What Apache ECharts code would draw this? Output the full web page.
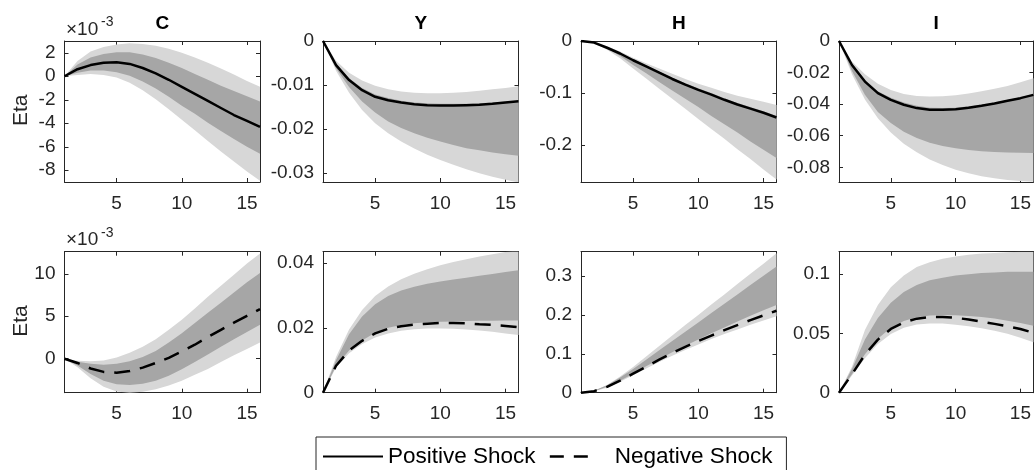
<!DOCTYPE html>
<html><head><meta charset="utf-8">
<script src="https://cdn.jsdelivr.net/npm/echarts@6/dist/echarts.min.js"></script>
<style>html,body{margin:0;padding:0;background:#fff;overflow:hidden}#chart{width:1034px;height:470px}</style>
</head><body><div id="chart"></div><script>
// ---------- DATA ----------
const periods = [1,2,3,4,5,6,7,8,9,10,11,12,13,14,15,16];
const titles = ['C', 'Y', 'H', 'I'];
const seriesNames = ['Positive Shock', 'Negative Shock'];
const xTickLabels = [5, 10, 15];

// Top row: positive shock (C in units of 1e-3)
const cPosLine    = [0, 0.6, 0.95, 1.15, 1.2, 1.05, 0.7, 0.25, -0.3, -0.9, -1.5, -2.1, -2.7, -3.3, -3.8, -4.3];
const cPosDarkHi  = [0, 1.0, 1.6, 1.9, 2.05, 2.05, 1.85, 1.55, 1.15, 0.7, 0.2, -0.3, -0.8, -1.25, -1.7, -2.15];
const cPosDarkLo  = [0, 0.3, 0.5, 0.5, 0.35, 0.05, -0.45, -1.05, -1.75, -2.5, -3.2, -3.95, -4.65, -5.35, -6.0, -6.6];
const cPosLightHi = [0, 1.3, 2.1, 2.5, 2.7, 2.8, 2.75, 2.6, 2.35, 2.0, 1.6, 1.15, 0.65, 0.15, -0.4, -0.9];
const cPosLightLo = [0, 0.1, 0.2, 0.1, -0.1, -0.55, -1.2, -1.95, -2.8, -3.7, -4.6, -5.5, -6.4, -7.25, -8.1, -8.9];

const yPosLine    = [0, -0.0055, -0.0089, -0.0112, -0.0127, -0.0135, -0.0140, -0.0144, -0.0146, -0.0147, -0.0147, -0.0146, -0.0145, -0.0143, -0.0140, -0.0137];
const yPosDarkHi  = [0, -0.0052, -0.0085, -0.0107, -0.0122, -0.0130, -0.0136, -0.0140, -0.0142, -0.0143, -0.0143, -0.0143, -0.0142, -0.0140, -0.0138, -0.0136];
const yPosDarkLo  = [0, -0.0062, -0.0105, -0.0138, -0.0163, -0.0183, -0.0198, -0.0210, -0.0220, -0.0229, -0.0237, -0.0244, -0.0249, -0.0254, -0.0258, -0.0261];
const yPosLightHi = [0, -0.0045, -0.0072, -0.0090, -0.0102, -0.0110, -0.0115, -0.0118, -0.0119, -0.0119, -0.0118, -0.0116, -0.0113, -0.0110, -0.0107, -0.0103];
const yPosLightLo = [0, -0.0068, -0.0118, -0.0157, -0.0187, -0.0210, -0.0229, -0.0245, -0.0259, -0.0271, -0.0282, -0.0292, -0.0301, -0.0309, -0.0316, -0.0322];

const hPosLine    = [0, -0.003, -0.013, -0.024, -0.037, -0.049, -0.061, -0.073, -0.084, -0.094, -0.103, -0.113, -0.122, -0.130, -0.138, -0.147];
const hPosDarkHi  = [0, -0.003, -0.012, -0.023, -0.035, -0.047, -0.059, -0.070, -0.081, -0.091, -0.100, -0.110, -0.119, -0.127, -0.135, -0.144];
const hPosDarkLo  = [0, -0.004, -0.015, -0.029, -0.046, -0.062, -0.079, -0.095, -0.111, -0.127, -0.144, -0.160, -0.176, -0.193, -0.209, -0.225];
const hPosLightHi = [0, -0.002, -0.010, -0.020, -0.032, -0.043, -0.053, -0.063, -0.073, -0.082, -0.090, -0.098, -0.105, -0.111, -0.117, -0.123];
const hPosLightLo = [0, -0.004, -0.017, -0.033, -0.053, -0.072, -0.092, -0.111, -0.130, -0.150, -0.169, -0.188, -0.208, -0.227, -0.247, -0.266];

const iPosLine    = [0, -0.0152, -0.0257, -0.0330, -0.0373, -0.0404, -0.0425, -0.0436, -0.0436, -0.0432, -0.0423, -0.0410, -0.0396, -0.0379, -0.0362, -0.0341];
const iPosDarkHi  = [0, -0.0145, -0.0245, -0.0318, -0.0360, -0.0390, -0.0410, -0.0423, -0.0425, -0.0422, -0.0414, -0.0402, -0.0389, -0.0373, -0.0357, -0.0338];
const iPosDarkLo  = [0, -0.0190, -0.0340, -0.0450, -0.0520, -0.0575, -0.0615, -0.0645, -0.0665, -0.0680, -0.0690, -0.0698, -0.0703, -0.0706, -0.0708, -0.0710];
const iPosLightHi = [0, -0.0130, -0.0210, -0.0270, -0.0310, -0.0335, -0.0348, -0.0352, -0.0350, -0.0343, -0.0332, -0.0318, -0.0302, -0.0285, -0.0262, -0.0236];
const iPosLightLo = [0, -0.0210, -0.0370, -0.0490, -0.0580, -0.0650, -0.0705, -0.0750, -0.0785, -0.0815, -0.0838, -0.0856, -0.0870, -0.0880, -0.0887, -0.0892];

// Bottom row: negative shock (C in units of 1e-3)
const cNegLine    = [0, -0.5, -1.15, -1.55, -1.65, -1.45, -1.05, -0.5, 0.1, 0.85, 1.65, 2.55, 3.4, 4.25, 5.05, 5.85];
const cNegDarkHi  = [0, -0.35, -0.6, -0.7, -0.6, -0.3, 0.2, 0.9, 1.9, 3.0, 4.2, 5.4, 6.6, 7.8, 9.0, 10.1];
const cNegDarkLo  = [0, -0.8, -1.8, -2.6, -3.0, -3.1, -2.95, -2.6, -2.0, -1.25, -0.4, 0.5, 1.4, 2.3, 3.15, 4.0];
const cNegLightHi = [0, -0.25, -0.3, -0.2, 0.15, 0.7, 1.4, 2.3, 3.4, 4.6, 5.9, 7.3, 8.6, 9.9, 11.2, 12.4];
const cNegLightLo = [0, -1.0, -2.3, -3.3, -3.85, -4.0, -3.9, -3.6, -3.15, -2.6, -1.9, -1.2, -0.4, 0.4, 1.15, 1.9];

const yNegLine    = [0, 0.0083, 0.0130, 0.0160, 0.0183, 0.0197, 0.0205, 0.0210, 0.0213, 0.0215, 0.0215, 0.0214, 0.0211, 0.0209, 0.0206, 0.0202];
const yNegDarkHi  = [0, 0.0100, 0.0180, 0.0235, 0.0273, 0.0298, 0.0315, 0.0327, 0.0336, 0.0343, 0.0349, 0.0355, 0.0361, 0.0366, 0.0372, 0.0378];
const yNegDarkLo  = [0, 0.0082, 0.0130, 0.0161, 0.0185, 0.0200, 0.0209, 0.0214, 0.0217, 0.0219, 0.0220, 0.0221, 0.0222, 0.0222, 0.0223, 0.0223];
const yNegLightHi = [0, 0.0110, 0.0195, 0.0255, 0.0298, 0.0328, 0.0350, 0.0367, 0.0381, 0.0393, 0.0403, 0.0412, 0.0420, 0.0427, 0.0434, 0.0440];
const yNegLightLo = [0, 0.0078, 0.0122, 0.0150, 0.0170, 0.0183, 0.0191, 0.0196, 0.0198, 0.0198, 0.0197, 0.0195, 0.0192, 0.0188, 0.0183, 0.0178];

const hNegLine    = [0, 0.004, 0.015, 0.031, 0.049, 0.067, 0.085, 0.102, 0.118, 0.133, 0.147, 0.161, 0.174, 0.187, 0.199, 0.211];
const hNegDarkHi  = [0, 0.005, 0.019, 0.039, 0.061, 0.085, 0.109, 0.133, 0.157, 0.181, 0.205, 0.229, 0.253, 0.277, 0.301, 0.325];
const hNegDarkLo  = [0, 0.004, 0.015, 0.031, 0.049, 0.068, 0.086, 0.104, 0.121, 0.137, 0.153, 0.168, 0.183, 0.198, 0.212, 0.226];
const hNegLightHi = [0, 0.005, 0.020, 0.042, 0.066, 0.093, 0.120, 0.147, 0.174, 0.200, 0.227, 0.253, 0.280, 0.306, 0.332, 0.359];
const hNegLightLo = [0, 0.0035, 0.013, 0.028, 0.045, 0.062, 0.079, 0.095, 0.110, 0.124, 0.138, 0.151, 0.163, 0.175, 0.186, 0.197];

const iNegLine    = [0, 0.0155, 0.0320, 0.0448, 0.0538, 0.0594, 0.0625, 0.0639, 0.0639, 0.0632, 0.0618, 0.0600, 0.0581, 0.0561, 0.0538, 0.0505];
const iNegDarkHi  = [0, 0.0200, 0.0450, 0.0630, 0.0760, 0.0850, 0.0910, 0.0950, 0.0970, 0.0990, 0.1000, 0.1010, 0.1015, 0.1020, 0.1020, 0.1020];
const iNegDarkLo  = [0, 0.0155, 0.0325, 0.0455, 0.0548, 0.0605, 0.0637, 0.0652, 0.0656, 0.0654, 0.0648, 0.0638, 0.0626, 0.0608, 0.0588, 0.0565];
const iNegLightHi = [0, 0.0220, 0.0530, 0.0740, 0.0890, 0.0990, 0.1060, 0.1100, 0.1130, 0.1150, 0.1165, 0.1175, 0.1180, 0.1185, 0.1190, 0.1190];
const iNegLightLo = [0, 0.0145, 0.0290, 0.0410, 0.0495, 0.0548, 0.0575, 0.0585, 0.0583, 0.0574, 0.0560, 0.0543, 0.0522, 0.0498, 0.0463, 0.0425];

// y-axis tick labels and ranges
const cPosTicks = [-8, -6, -4, -2, 0, 2];
const yPosTicks = [-0.03, -0.02, -0.01, 0];
const hPosTicks = [-0.2, -0.1, 0];
const iPosTicks = [-0.08, -0.06, -0.04, -0.02, 0];
const cNegTicks = [0, 5, 10];
const yNegTicks = [0, 0.02, 0.04];
const hNegTicks = [0, 0.1, 0.2, 0.3];
const iNegTicks = [0, 0.05, 0.1];
const cPosRange = [-9, 3];
const yPosRange = [-0.0321, 0];
const hPosRange = [-0.271, 0];
const iPosRange = [-0.0893, 0];
const cNegRange = [-4, 12.6];
const yNegRange = [0, 0.0435];
const hNegRange = [0, 0.363];
const iNegRange = [0, 0.119];

// ---------- LAYOUT / STYLE ----------
const panels = [
  {row:0,col:0,line:cPosLine,dh:cPosDarkHi,dl:cPosDarkLo,lh:cPosLightHi,ll:cPosLightLo,ticks:cPosTicks,range:cPosRange,neg:false,ylab:'Eta'},
  {row:0,col:1,line:yPosLine,dh:yPosDarkHi,dl:yPosDarkLo,lh:yPosLightHi,ll:yPosLightLo,ticks:yPosTicks,range:yPosRange,neg:false},
  {row:0,col:2,line:hPosLine,dh:hPosDarkHi,dl:hPosDarkLo,lh:hPosLightHi,ll:hPosLightLo,ticks:hPosTicks,range:hPosRange,neg:false},
  {row:0,col:3,line:iPosLine,dh:iPosDarkHi,dl:iPosDarkLo,lh:iPosLightHi,ll:iPosLightLo,ticks:iPosTicks,range:iPosRange,neg:false},
  {row:1,col:0,line:cNegLine,dh:cNegDarkHi,dl:cNegDarkLo,lh:cNegLightHi,ll:cNegLightLo,ticks:cNegTicks,range:cNegRange,neg:true,ylab:'Eta'},
  {row:1,col:1,line:yNegLine,dh:yNegDarkHi,dl:yNegDarkLo,lh:yNegLightHi,ll:yNegLightLo,ticks:yNegTicks,range:yNegRange,neg:true},
  {row:1,col:2,line:hNegLine,dh:hNegDarkHi,dl:hNegDarkLo,lh:hNegLightHi,ll:hNegLightLo,ticks:hNegTicks,range:hNegRange,neg:true},
  {row:1,col:3,line:iNegLine,dh:iNegDarkHi,dl:iNegDarkLo,lh:iNegLightHi,ll:iNegLightLo,ticks:iNegTicks,range:iNegRange,neg:true}
];
const colLeft = [64.5, 323, 581, 839];
const rowTop = [41, 251.7];
const plotW = 195.5, plotH = 141;
const FONT = '"Liberation Sans", Arial, Helvetica, sans-serif';
const AX = '#262626';
const LIGHT = '#d7d7d7', DARK = '#a6a6a6';
const DASH = [16, 10];

const grid = [], xAxis = [], yAxis = [], series = [];

function bandSeries(idx, lo, hi, color, z) {
  return {
    type: 'custom', xAxisIndex: idx * 2, yAxisIndex: idx * 2, clip: true, silent: true, z: z,
    data: [[periods[0], lo[0]]], encode: {x: 0, y: 1},
    renderItem: function (params, api) {
      const pts = [];
      for (let k = 0; k < periods.length; k++) pts.push(api.coord([periods[k], hi[k]]));
      for (let k = periods.length - 1; k >= 0; k--) pts.push(api.coord([periods[k], lo[k]]));
      return {type: 'polygon', shape: {points: pts}, style: {fill: color, stroke: null}};
    }
  };
}

panels.forEach(function (p, i) {
  grid.push({left: colLeft[p.col], top: rowTop[p.row], width: plotW, height: plotH, containLabel: false});
  const tickCommon = {show: true, inside: true, length: 4, lineStyle: {color: AX, width: 1}};
  xAxis.push({
    type: 'value', gridIndex: i, position: 'bottom', min: 1, max: 16,
    axisLine: {show: true, onZero: false, lineStyle: {color: AX, width: 1}},
    axisTick: Object.assign({customValues: xTickLabels}, tickCommon),
    axisLabel: {customValues: xTickLabels, color: AX, fontSize: 19, fontFamily: FONT, margin: 12},
    splitLine: {show: false}
  });
  xAxis.push({
    type: 'value', gridIndex: i, position: 'top', min: 1, max: 16,
    name: p.row === 0 ? titles[p.col] : '', nameLocation: 'middle', nameGap: 8,
    nameTextStyle: {color: '#000', fontSize: 19, fontWeight: 'bold', fontFamily: FONT},
    axisLine: {show: true, onZero: false, lineStyle: {color: AX, width: 1}},
    axisTick: Object.assign({customValues: xTickLabels}, tickCommon),
    axisLabel: {show: false}, splitLine: {show: false}
  });
  yAxis.push({
    type: 'value', gridIndex: i, position: 'left', min: p.range[0], max: p.range[1],
    axisLine: {show: true, onZero: false, lineStyle: {color: AX, width: 1}},
    axisTick: Object.assign({customValues: p.ticks}, tickCommon),
    axisLabel: {customValues: p.ticks, color: AX, fontSize: 19, fontFamily: FONT, margin: 9},
    splitLine: {show: false}
  });
  yAxis.push({
    type: 'value', gridIndex: i, position: 'right', min: p.range[0], max: p.range[1],
    axisLine: {show: true, onZero: false, lineStyle: {color: AX, width: 1}},
    axisTick: Object.assign({customValues: p.ticks}, tickCommon),
    axisLabel: {show: false}, splitLine: {show: false}
  });
  series.push(bandSeries(i, p.ll, p.lh, LIGHT, 1));
  series.push(bandSeries(i, p.dl, p.dh, DARK, 2));
  series.push({
    type: 'line', name: p.neg ? seriesNames[1] : seriesNames[0],
    xAxisIndex: i * 2, yAxisIndex: i * 2, z: 5,
    data: periods.map(function (x, k) { return [x, p.line[k]]; }),
    showSymbol: false, symbol: 'none', smooth: false, silent: true,
    lineStyle: {color: '#000', width: 2.5, type: p.neg ? DASH : 'solid', cap: 'butt'},
    itemStyle: {color: '#000'}
  });
});

const graphic = [];
// ylabel "Eta" and x10^-3 exponent labels for left column
panels.forEach(function (p) {
  if (p.col !== 0) return;
  const top = rowTop[p.row];
  graphic.push({
    type: 'text', left: 11, top: top + plotH / 2 - 17, rotation: Math.PI / 2,
    style: {text: p.ylab, fontSize: 21, fontFamily: FONT, fill: AX}
  });
  graphic.push({
    type: 'text', left: 66, top: top - 21,
    style: {text: '×10', fontSize: 19, fontFamily: FONT, fill: AX}
  });
  graphic.push({
    type: 'text', left: 101, top: top - 26,
    style: {text: '-3', fontSize: 14, fontFamily: FONT, fill: AX}
  });
});

const option = {
  animation: false,
  backgroundColor: '#fff',
  grid: grid, xAxis: xAxis, yAxis: yAxis, series: series, graphic: graphic,
  legend: {
    data: [
      {name: seriesNames[0]},
      {name: seriesNames[1], lineStyle: {type: [14, 10, 14, 40], width: 2.5, color: '#000'}}
    ],
    left: 316, top: 437, orient: 'horizontal',
    padding: [8, 14, 12, 6], itemGap: 13, itemWidth: 60, itemHeight: 14,
    borderColor: AX, borderWidth: 1, backgroundColor: '#fff',
    selectedMode: false,
    itemStyle: {opacity: 0},
    textStyle: {color: '#000', fontSize: 22.5, fontFamily: FONT}
  }
};
const chart = echarts.init(document.getElementById('chart'), null, {renderer: 'canvas'});
chart.setOption(option);
</script></body></html>
